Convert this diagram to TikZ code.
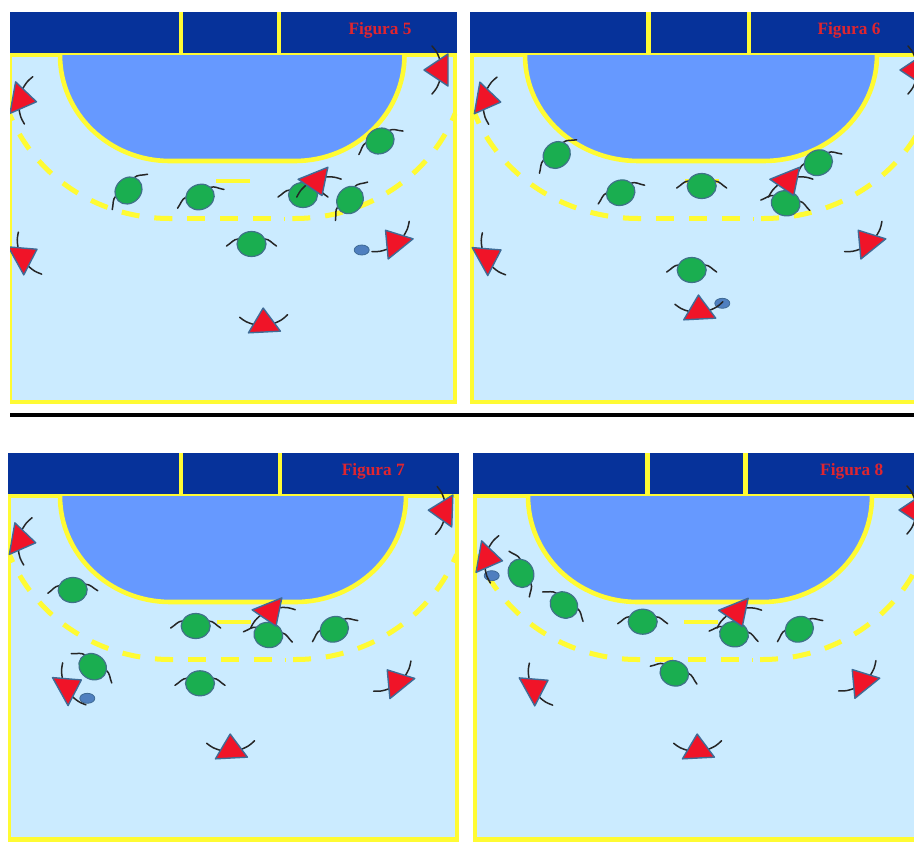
\documentclass[tikz,border=0pt]{standalone}
\usepackage{fontspec}
\setmainfont{Liberation Serif}
\usepackage{xcolor}
\usepackage{tikz}

\definecolor{bandblue}{HTML}{06329A}
\definecolor{areablue}{HTML}{6699FF}
\definecolor{courtblue}{HTML}{CBEBFF}
\definecolor{lineyellow}{HTML}{FFFB33}
\definecolor{playergreen}{HTML}{1AAE50}
\definecolor{playeredge}{HTML}{3F7288}
\definecolor{attackred}{HTML}{F01428}
\definecolor{attackedge}{HTML}{3F6B96}
\definecolor{ballblue}{HTML}{4F7FBF}
\definecolor{labelred}{HTML}{E0252F}

\newcommand{\court}[9]{%
  \begin{scope}[shift={#1}]
    \pgfmathsetmacro{\cx}{(#4+#5)/2}
    \pgfmathsetmacro{\rx}{(#5-#4-125)/2}
    \pgfmathsetmacro{\pw}{#2}
    \draw[courtline, fill=courtblue] (#9,2) rectangle (\pw-2,#3-2);
    \fill[bandblue] (0,0) rectangle (\pw,43);
    \draw[courtline] (0,43) -- (\pw,43);
    \draw[courtline] (#6,0) -- (#6,43);
    \draw[courtline] (#7,0) -- (#7,43);
    \draw[courtline, fill=areablue] (#4,43) arc[start angle=180, end angle=90, x radius=\rx, y radius=106] -- ++(125,0) arc[start angle=90, end angle=0, x radius=\rx, y radius=106];
    \draw[courtline] (\cx-16,169) -- (\cx+18,169);
    \draw[freeline] (\cx-60,206.5) -- (\cx-62.5,206.5) arc[start angle=90, end angle=159, x radius=\rx+62, y radius=163.5];
    \draw[freeline] (\cx-45,206.5) -- (\cx+40,206.5);
    \draw[courtline, line width=4pt] (\cx+52,206.5) -- (\cx+53,206.5);
    \draw[freeline] (\cx+60,206.5) -- (\cx+62.5,206.5) arc[start angle=90, end angle=21, x radius=\rx+62, y radius=163.5];
    \node[figlabel] (label#8) at (\labelx,18) {Figura #8};
  \end{scope}}
\newcommand{\defender}[3]{%
  \begin{scope}[shift={(#1,#2)}, rotate=#3]
    \draw[arm] (-25,2) .. controls (-20,-1) and (-18,-5) .. (-13,-5);
    \draw[arm] (25,2) .. controls (20,-1) and (18,-5) .. (13,-5);
    \draw[defbody] (0,0) ellipse (14.5 and 12.5);
  \end{scope}}
\newcommand{\attacker}[3]{%
  \begin{scope}[shift={(#1,#2)}, rotate=#3]
    \draw[arm] (-24,-8) .. controls (-18,-3) .. (-10,0);
    \draw[arm] (24,-8) .. controls (18,-3) .. (10,0);
    \draw[attbody] (0,-16) -- (-16,8) -- (16,8) -- cycle;
  \end{scope}}
\newcommand{\ball}[2]{\draw[ballbody] (#1,#2) ellipse (7.5 and 5);}

\begin{document}
\begin{tikzpicture}[
    x=1pt, y=-1pt,
    courtline/.style={draw=lineyellow, line width=4.6pt},
    freeline/.style={draw=lineyellow, line width=5pt, dash pattern=on 18pt off 15pt},
    figlabel/.style={text=labelred, font=\fontsize{17.3}{18}\selectfont\bfseries, inner sep=0pt},
    arm/.style={draw=black!85, line width=1.5pt, line cap=round},
    defbody/.style={draw=playeredge, fill=playergreen, line width=1.2pt},
    attbody/.style={draw=attackedge, fill=attackred, line width=1.4pt, line join=round},
    ballbody/.style={draw=attackedge, fill=ballblue, line width=0.8pt}
  ]
  \useasboundingbox (0,0) rectangle (914,844);

  \begin{scope}
    \clip (10,12) rectangle (457,404);
    \def\labelx{370}
    \court{(10,12)}{447}{392}{50}{394.5}{171}{269}{5}{0}
    \ball{361.7}{250}
    \defender{128.5}{190.5}{45}
    \defender{200}{197}{22}
    \defender{303}{195}{0}
    \defender{350}{200}{50}
    \defender{380}{141}{28}
    \defender{251.5}{244}{0}
    \attacker{20.7}{99}{-100}
    \attacker{440}{70}{90}
    \attacker{23}{257}{-61}
    \attacker{395.6}{242.7}{39}
    \attacker{316}{180.7}{-158}
    \attacker{264}{324}{3}
  \end{scope}

  \begin{scope}
    \clip (470,12) rectangle (914,404);
    \def\labelx{379}
    \court{(470,12)}{450}{392}{55}{407}{178.3}{279}{6}{2}
    \ball{722.3}{303.3}
    \defender{556.7}{155}{42}
    \defender{620.7}{192.7}{22}
    \defender{701.7}{186}{0}
    \defender{818.3}{162.7}{25}
    \defender{785.7}{203.3}{-12}
    \defender{691.7}{270}{0}
    \attacker{485}{99.3}{-100}
    \attacker{916}{70}{90}
    \attacker{487}{257.7}{-61}
    \attacker{868.3}{242.7}{39}
    \attacker{787.7}{180.7}{-158}
    \attacker{699.3}{311}{3}
  \end{scope}

  \draw[line width=4pt] (10,415) -- (914,415);

  \begin{scope}
    \clip (8,453) rectangle (459,842);
    \def\labelx{365.3}
    \court{(8,453)}{451}{388.5}{52}{398}{173}{272}{7}{1}
    \ball{87.3}{698.3}
    \defender{72.7}{590}{3}
    \defender{195.7}{626}{0}
    \defender{268.3}{635}{-12}
    \defender{334.3}{629.3}{25}
    \defender{92.7}{666.7}{-36}
    \defender{200}{683.3}{0}
    \attacker{20}{540}{-100}
    \attacker{444.3}{510.7}{88}
    \attacker{67.3}{687.7}{-61}
    \attacker{397.3}{682.3}{39}
    \attacker{270}{611.3}{-158}
    \attacker{231}{750}{3}
  \end{scope}

  \begin{scope}
    \clip (473,453) rectangle (914,842);
    \def\labelx{378.7}
    \court{(473,453)}{445}{388.5}{55}{399}{174.3}{272.7}{8}{2}
    \ball{491.7}{575.7}
    \defender{521}{573.3}{-66}
    \defender{564}{605}{-36}
    \defender{642.7}{621.7}{0}
    \defender{734}{634.3}{-12}
    \defender{799.3}{629.3}{25}
    \defender{674.3}{673.3}{-21}
    \attacker{486.7}{558}{-100}
    \attacker{915}{510}{90}
    \attacker{534}{688}{-61}
    \attacker{862.3}{682}{39}
    \attacker{736.3}{611.7}{-158}
    \attacker{698}{750}{3}
  \end{scope}
\end{tikzpicture}
\end{document}
